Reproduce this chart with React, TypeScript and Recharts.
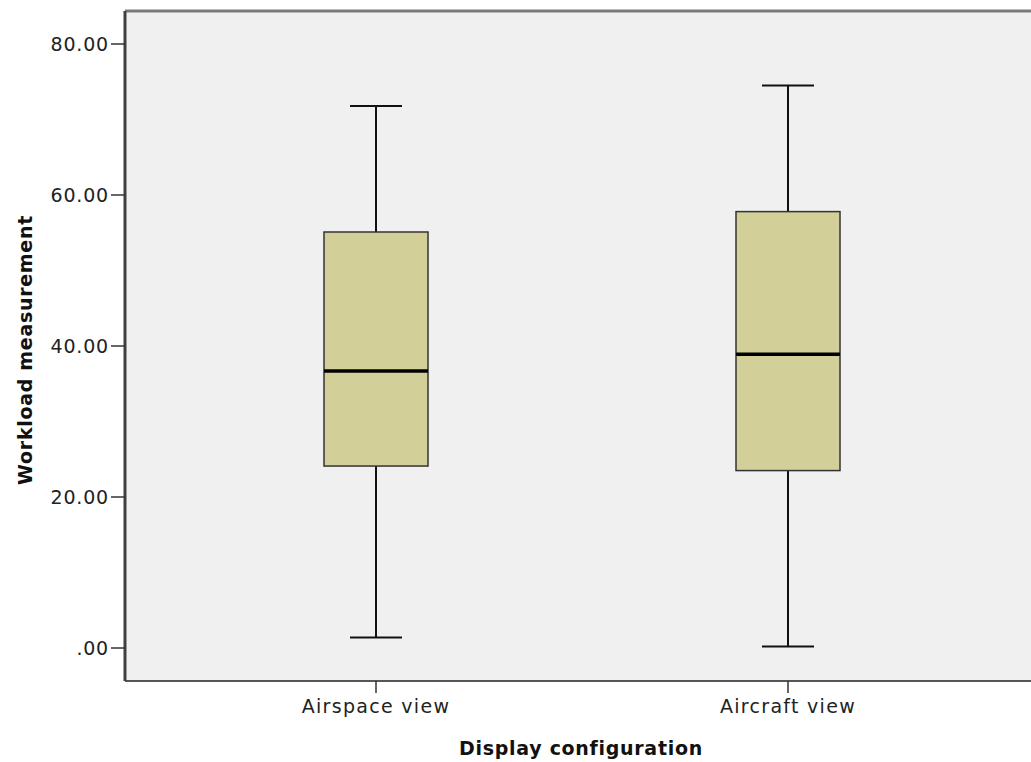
import React from "react";
import {
  ComposedChart,
  Bar,
  XAxis,
  YAxis,
  CartesianGrid,
  ReferenceLine,
  Label,
} from "recharts";

const categories = ["Airspace view", "Aircraft view"];
const whiskerLow = [1.4, 0.2];
const quartile1 = [24.1, 23.5];
const medians = [36.7, 38.9];
const quartile3 = [55.1, 57.8];
const whiskerHigh = [71.8, 74.5];
const yTicks = [0, 20, 40, 60, 80];

const Y_MIN = -4.37;
const Y_MAX = 84.37;

const data = categories.map((name, i) => ({
  name,
  low: whiskerLow[i],
  q1: quartile1[i],
  median: medians[i],
  q3: quartile3[i],
  high: whiskerHigh[i],
}));

const fontFamily = "'DejaVu Sans', sans-serif";

// draws whiskers, box and median line for one category
const BoxShape = (props: any) => {
  const { x, y, width, height, payload } = props;
  const top = Math.min(y, y + height);
  const h = Math.abs(height);
  const lo = payload.low;
  const hi = payload.high;
  const py = (v: number) => top + (h * (hi - v)) / (hi - lo);
  const cx = x + width / 2;
  const cap = width / 4;
  return (
    <g>
      <line x1={cx} x2={cx} y1={py(hi)} y2={py(payload.q3)} stroke="#111" strokeWidth={2} />
      <line x1={cx} x2={cx} y1={py(payload.q1)} y2={py(lo)} stroke="#111" strokeWidth={2} />
      <line x1={cx - cap} x2={cx + cap} y1={py(hi)} y2={py(hi)} stroke="#111" strokeWidth={2} />
      <line x1={cx - cap} x2={cx + cap} y1={py(lo)} y2={py(lo)} stroke="#111" strokeWidth={2} />
      <rect
        x={x}
        y={py(payload.q3)}
        width={width}
        height={py(payload.q1) - py(payload.q3)}
        fill="#d3cf98"
        stroke="#333"
        strokeWidth={1.5}
      />
      <line
        x1={x}
        x2={x + width}
        y1={py(payload.median)}
        y2={py(payload.median)}
        stroke="#000"
        strokeWidth={3.5}
      />
    </g>
  );
};

const fmt = (v: number) => (v === 0 ? ".00" : v.toFixed(2));

export default function App() {
  return (
    <div style={{ position: "absolute", left: 0, top: 0, background: "#fff" }}>
      <ComposedChart
        width={1031}
        height={762}
        data={data}
        margin={{ top: 11, right: 0, bottom: 0, left: 0 }}
      >
        <CartesianGrid fill="#f0f0f0" stroke="none" />
        <XAxis
          dataKey="name"
          height={81}
          padding={{ left: 45, right: 37 }}
          axisLine={{ stroke: "#222", strokeWidth: 1.5 }}
          tickLine={{ stroke: "#333", strokeWidth: 1.5 }}
          tickSize={12}
          tickMargin={7}
          tick={{ fill: "#222", fontSize: 19, fontFamily, letterSpacing: 1.3 }}
        >
          <Label
            content={(p: any) => {
              const vb = p.viewBox;
              return (
                <text
                  x={vb.x + vb.width / 2 + 3}
                  y={755}
                  textAnchor="middle"
                  fontFamily={fontFamily}
                  fontWeight="bold"
                  fontSize={19}
                  letterSpacing={0.7}
                  fill="#111"
                >
                  Display configuration
                </text>
              );
            }}
          />
        </XAxis>
        <YAxis
          width={125}
          type="number"
          domain={[Y_MIN, Y_MAX]}
          ticks={yTicks}
          tickFormatter={fmt}
          axisLine={{ stroke: "#404040", strokeWidth: 3 }}
          tickLine={{ stroke: "#333", strokeWidth: 1.5 }}
          tickSize={14}
          tickMargin={2}
          tick={{ fill: "#222", fontSize: 19, fontFamily, letterSpacing: 0.8 }}
        >
          <Label
            content={(p: any) => {
              const vb = p.viewBox;
              const cy = vb.y + vb.height / 2 + 4;
              return (
                <text
                  x={25}
                  y={cy}
                  transform={`rotate(-90, 25, ${cy})`}
                  textAnchor="middle"
                  dominantBaseline="central"
                  fontFamily={fontFamily}
                  fontWeight="bold"
                  fontSize={19}
                  letterSpacing={0.7}
                  fill="#111"
                >
                  Workload measurement
                </text>
              );
            }}
          />
        </YAxis>
        <ReferenceLine y={Y_MAX} stroke="#7a7a7a" strokeWidth={3} />
        <Bar
          dataKey={(d: any) => [d.low, d.high]}
          barSize={104}
          shape={BoxShape}
          isAnimationActive={false}
        />
      </ComposedChart>
    </div>
  );
}
